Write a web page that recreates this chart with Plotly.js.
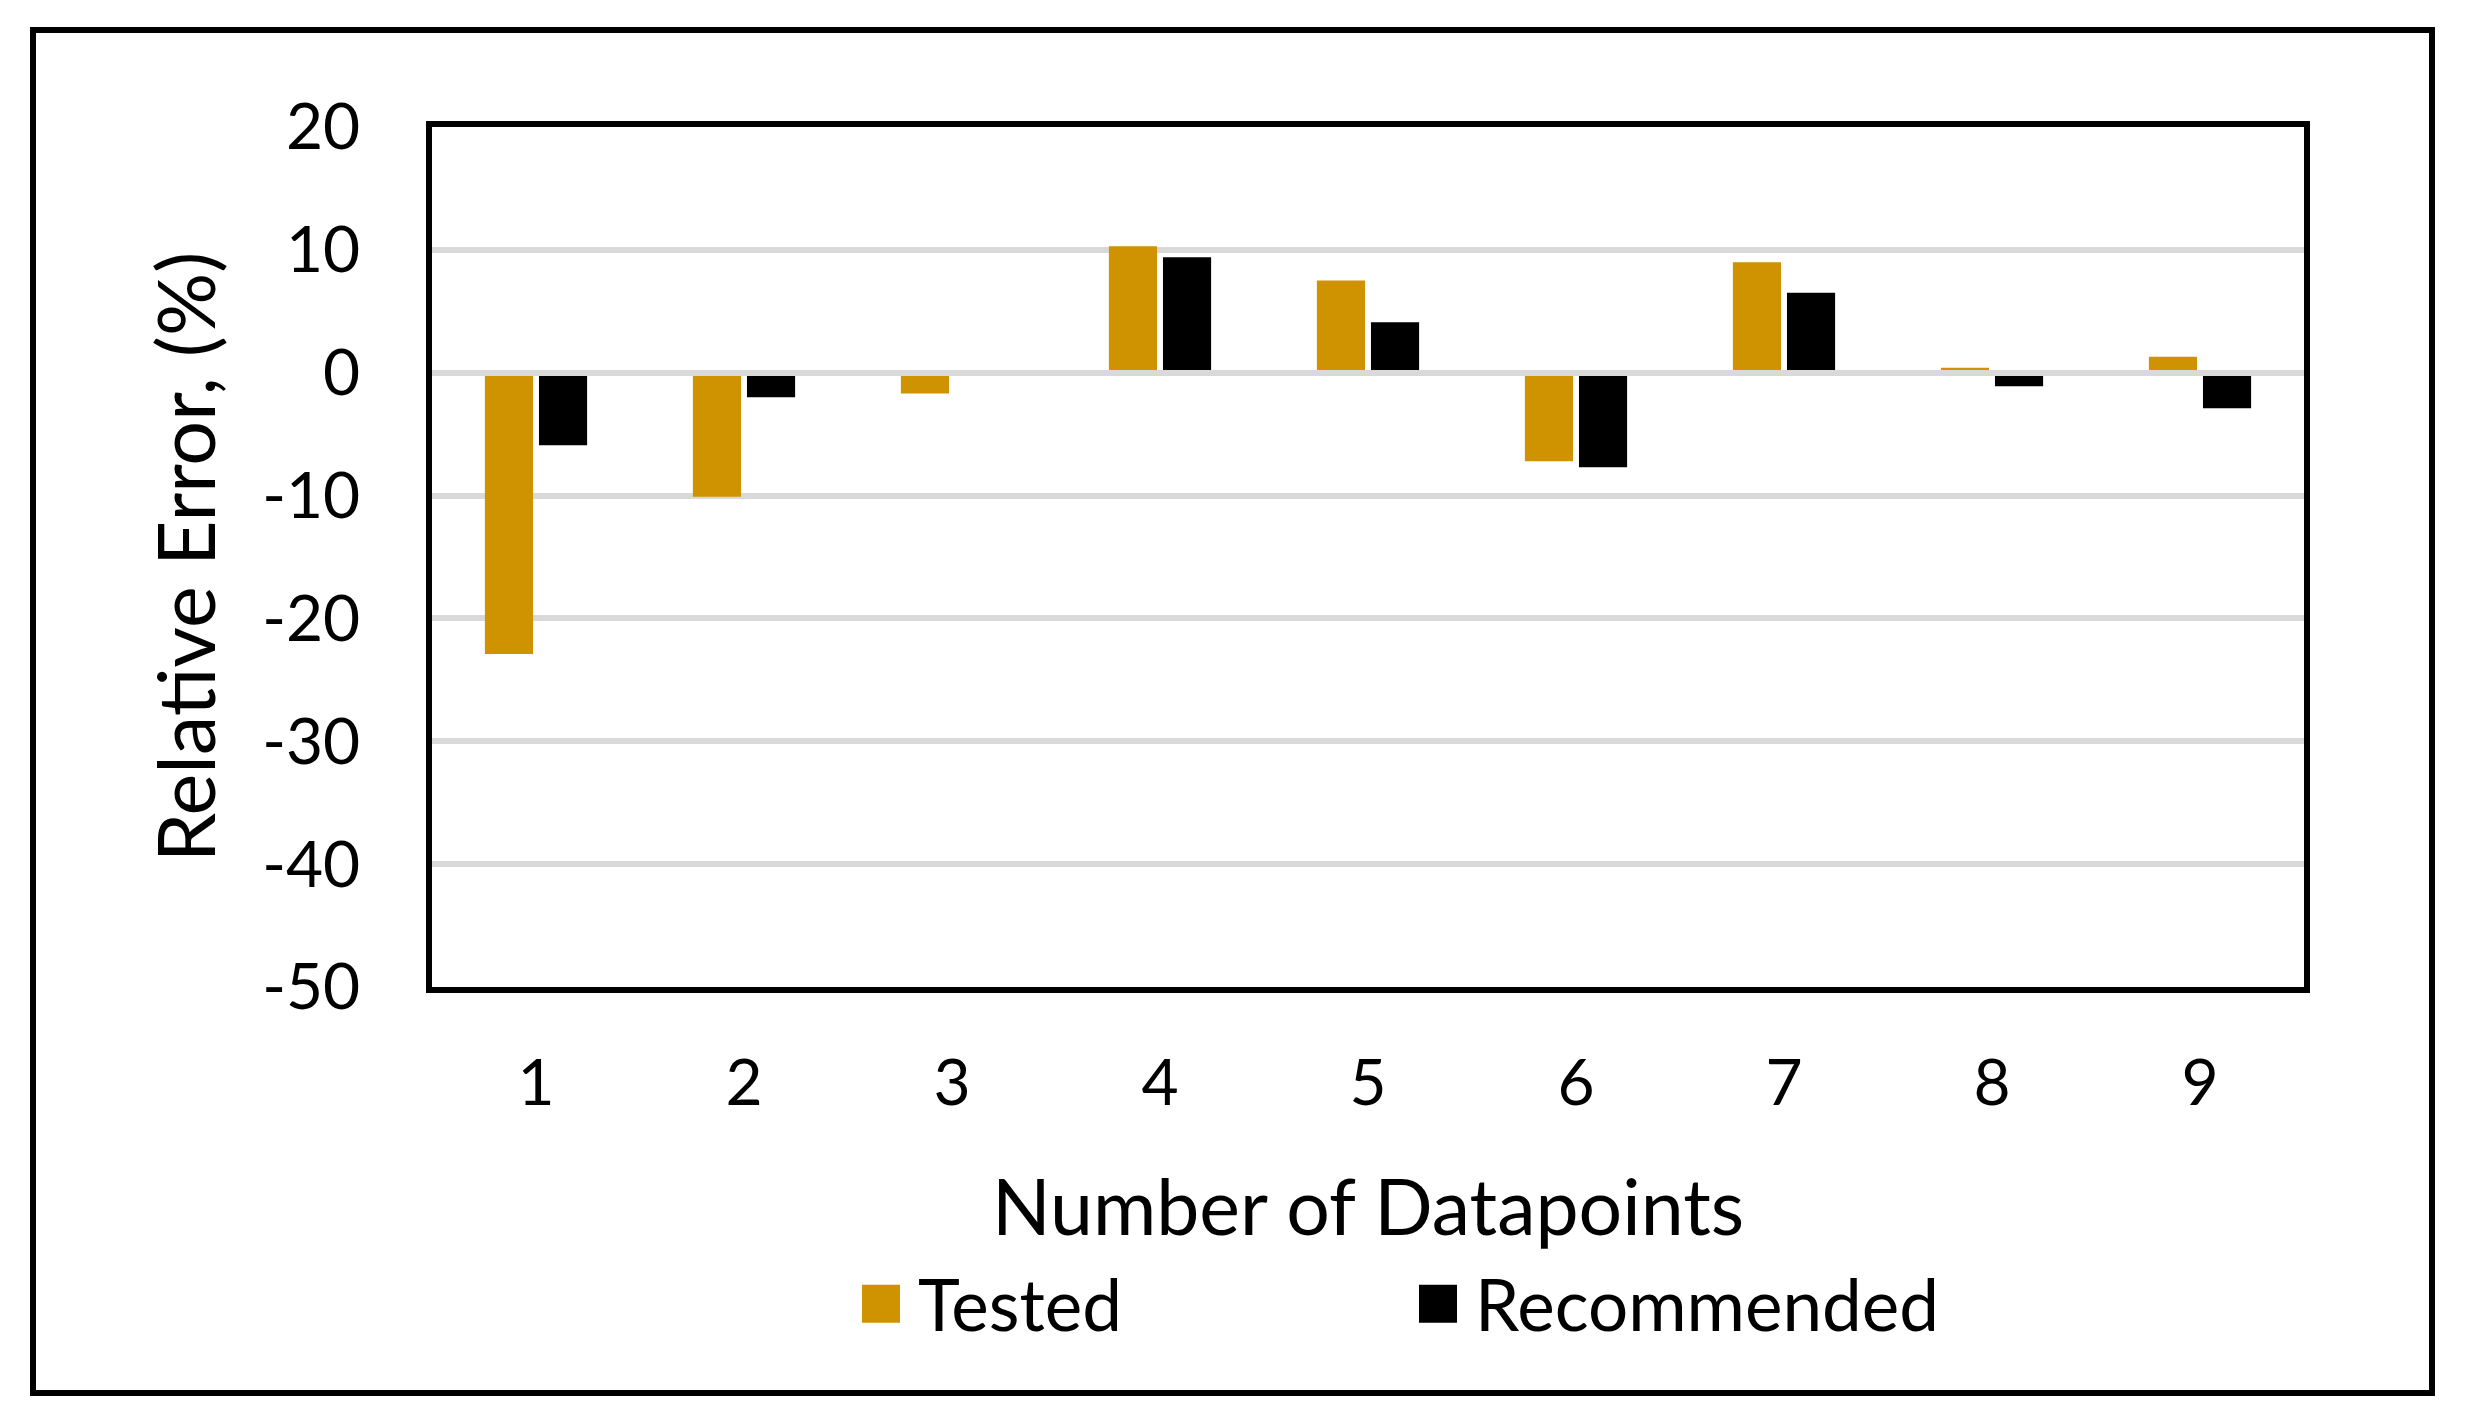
<!DOCTYPE html>
<html>
<head>
<meta charset="utf-8">
<script src="https://cdn.plot.ly/plotly-3.0.1.min.js"></script>
<style>
  html, body { margin: 0; padding: 0; background: #ffffff; }
  #chart { width: 2475px; height: 1427px; }
</style>
</head>
<body>
<div id="chart"></div>
<script>
// ---- data ----
const categories = ['1', '2', '3', '4', '5', '6', '7', '8', '9'];
const tested = [-22.9, -10.1, -1.7, 10.3, 7.5, -7.2, 9.0, 0.4, 1.3];
const recommended = [-5.9, -2.0, 0.0, 9.4, 4.1, -7.7, 6.5, -1.1, -2.9];
const yTicks = [-50, -40, -30, -20, -10, 0, 10, 20];
const seriesNames = ['Tested', 'Recommended'];
const seriesColors = ['#CF9200', '#000000'];

// ---- layout geometry (pixels) ----
const W = 2475, H = 1427;
const plotL = 432, plotR = 2304, plotT = 127, plotB = 987;
const px2paperX = p => (p - plotL) / (plotR - plotL);
const px2paperY = p => (plotB - p) / (plotB - plotT);
const FONT = 'Lato, "Open Sans", sans-serif';

const traces = [
  { type: 'bar', name: seriesNames[0], x: categories, y: tested,
    marker: { color: seriesColors[0] } },
  { type: 'bar', name: seriesNames[1], x: categories, y: recommended,
    marker: { color: seriesColors[1] } }
];

const layout = {
  width: W, height: H,
  margin: { l: plotL, r: W - plotR, t: plotT, b: H - plotB, pad: 0 },
  paper_bgcolor: '#ffffff',
  plot_bgcolor: '#ffffff',
  font: { family: FONT, color: '#000000' },
  barmode: 'group',
  bargap: 0.48,
  bargroupgap: 0.11,
  showlegend: true,
  legend: {
    orientation: 'h',
    xref: 'container', yref: 'container',
    x: 848 / W, xanchor: 'left',
    y: 1 - 1304 / H, yanchor: 'middle',
    font: { family: FONT, size: 71, color: '#000000' },
    itemwidth: 60,
    entrywidth: 482,
    bgcolor: 'rgba(0,0,0,0)'
  },
  xaxis: {
    type: 'category',
    showline: true, mirror: true, linecolor: '#000000', linewidth: 6,
    showgrid: false,
    ticks: 'outside', ticklen: 35, tickcolor: 'rgba(0,0,0,0)',
    tickfont: { family: FONT, size: 64, color: '#000000' },
    title: { text: 'Number of Datapoints', standoff: 67,
             font: { family: FONT, size: 77, color: '#000000' } },
    fixedrange: true
  },
  yaxis: {
    range: [-50, 20],
    tickvals: yTicks,
    ticktext: yTicks.map(String),
    showline: true, mirror: true, linecolor: '#000000', linewidth: 6,
    showgrid: true, gridcolor: '#d9d9d9', gridwidth: 6,
    zeroline: true, zerolinecolor: '#d9d9d9', zerolinewidth: 6,
    zerolinelayer: 'above traces',
    ticks: 'outside', ticklen: 53, tickcolor: 'rgba(0,0,0,0)',
    tickfont: { family: FONT, size: 64, color: '#000000' },
    title: { text: 'Relative Error, (%)', standoff: 23,
             font: { family: FONT, size: 79, color: '#000000' } },
    fixedrange: true
  },
  shapes: [
    { type: 'rect', xref: 'paper', yref: 'paper', layer: 'above',
      x0: px2paperX(33), x1: px2paperX(2432),
      y0: px2paperY(1393), y1: px2paperY(30),
      line: { color: '#000000', width: 6 }, fillcolor: 'rgba(0,0,0,0)' }
  ]
};

Plotly.newPlot('chart', traces, layout, { displayModeBar: false, staticPlot: true }).then(gd => {
  // enlarge legend swatches to the reference's square keys, placed next to the text
  const half = 19, cx = 33;
  gd.querySelectorAll('.legend .legendpoints path').forEach(p => {
    p.removeAttribute('transform');
    p.setAttribute('d', `M${cx + half},${half}H${cx - half}V${-half}H${cx + half}Z`);
    p.style.strokeWidth = '0px';
  });
});
</script>
</body>
</html>
